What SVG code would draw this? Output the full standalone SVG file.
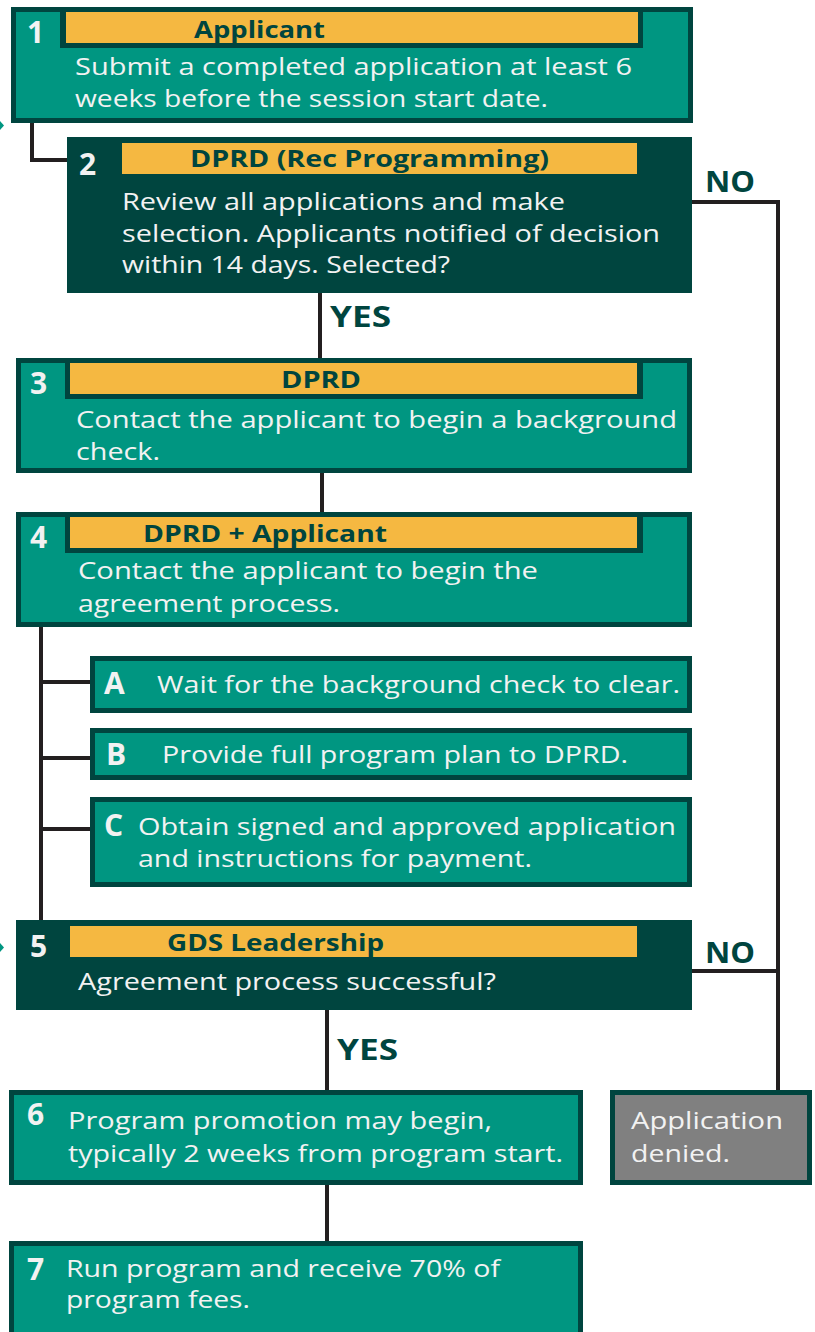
<svg xmlns="http://www.w3.org/2000/svg" width="815" height="1332" viewBox="0 0 815 1332">
<style>
.box{fill:#009681;stroke:#00453f;stroke-width:5}
.dbox{fill:#00453f}
.gbox{fill:#808080;stroke:#00453f;stroke-width:5}
.hf{fill:#00453f}
.hy{fill:#f5b841}
.num{font-family:"Open Sans","Noto Sans",sans-serif;font-weight:700;font-size:30px;fill:#f2f2f2}
.hd{font-family:"Open Sans","Noto Sans",sans-serif;font-weight:700;font-size:24px;fill:#00453f}
.tx{font-family:"Open Sans","Noto Sans",sans-serif;font-size:24px;fill:#f2f2f2}
.lb{font-family:"Open Sans","Noto Sans",sans-serif;font-weight:700;font-size:29px;fill:#00453f}
.cn{fill:none;stroke:#231f20;stroke-width:4}
</style>
<g id="connectors">
<path class="cn" d="M32 121 V160 H69"/>
<path class="cn" d="M690 202 H778 V1092"/>
<path class="cn" d="M690 971 H778"/>
<path class="cn" d="M320 291 V360"/>
<path class="cn" d="M322 471 V514"/>
<path class="cn" d="M41 625 V922"/>
<path class="cn" d="M41 682 H92 M41 758 H92 M41 829 H92"/>
<path class="cn" d="M327 1008 V1092"/>
<path class="cn" d="M327 1183 V1243"/>
<polygon points="0,121 4,125.5 0,130" fill="#009681"/>
<polygon points="0,943 4,947.5 0,952" fill="#009681"/>
<text class="lb" x="705" y="192" textLength="50" lengthAdjust="spacingAndGlyphs">NO</text>
<text class="lb" x="705" y="963" textLength="50" lengthAdjust="spacingAndGlyphs">NO</text>
<text class="lb" x="330" y="327" textLength="61" lengthAdjust="spacingAndGlyphs">YES</text>
<text class="lb" x="337" y="1060" textLength="61" lengthAdjust="spacingAndGlyphs">YES</text>
</g>
<g id="node1">
<rect class="box" x="13.5" y="9.5" width="677" height="111"/>
<rect class="hf" x="60" y="7" width="583" height="41"/>
<rect class="hy" x="66" y="12" width="572" height="31"/>
<text class="num" x="27" y="43">1</text>
<text class="hd" x="194" y="38" textLength="131" lengthAdjust="spacingAndGlyphs">Applicant</text>
<text class="tx" x="75" y="75" textLength="557" lengthAdjust="spacingAndGlyphs">Submit a completed application at least 6</text>
<text class="tx" x="75" y="107" textLength="473" lengthAdjust="spacingAndGlyphs">weeks before the session start date.</text>
</g>
<g id="node2">
<rect class="dbox" x="67" y="137" width="625" height="156"/>
<rect class="hy" x="122" y="143" width="515" height="31"/>
<text class="num" x="79" y="175">2</text>
<text class="hd" x="190" y="167" textLength="359" lengthAdjust="spacingAndGlyphs">DPRD (Rec Programming)</text>
<text class="tx" x="122" y="210" textLength="443" lengthAdjust="spacingAndGlyphs">Review all applications and make</text>
<text class="tx" x="122" y="242" textLength="538" lengthAdjust="spacingAndGlyphs">selection. Applicants notified of decision</text>
<text class="tx" x="122" y="273" textLength="328" lengthAdjust="spacingAndGlyphs">within 14 days. Selected?</text>
</g>
<g id="node3">
<rect class="box" x="18.5" y="360.5" width="671" height="110"/>
<rect class="hf" x="65" y="358" width="578" height="41"/>
<rect class="hy" x="70" y="363" width="567" height="31"/>
<text class="num" x="30" y="394">3</text>
<text class="hd" x="281" y="388" textLength="80" lengthAdjust="spacingAndGlyphs">DPRD</text>
<text class="tx" x="76" y="428" textLength="601" lengthAdjust="spacingAndGlyphs">Contact the applicant to begin a background</text>
<text class="tx" x="76" y="460" textLength="84" lengthAdjust="spacingAndGlyphs">check.</text>
</g>
<g id="node4">
<rect class="box" x="18.5" y="514.5" width="671" height="110"/>
<rect class="hf" x="65" y="512" width="578" height="41"/>
<rect class="hy" x="70" y="517" width="567" height="31"/>
<text class="num" x="30" y="548">4</text>
<text class="hd" x="143" y="542" textLength="244" lengthAdjust="spacingAndGlyphs">DPRD + Applicant</text>
<text class="tx" x="78" y="579" textLength="460" lengthAdjust="spacingAndGlyphs">Contact the applicant to begin the</text>
<text class="tx" x="78" y="612" textLength="262" lengthAdjust="spacingAndGlyphs">agreement process.</text>
</g>
<g id="nodeA">
<rect class="box" x="92.5" y="658.5" width="597" height="52"/>
<text class="num" x="104" y="694">A</text>
<text class="tx" x="157" y="693" textLength="523" lengthAdjust="spacingAndGlyphs">Wait for the background check to clear.</text>
</g>
<g id="nodeB">
<rect class="box" x="92.5" y="730.5" width="597" height="47"/>
<text class="num" x="106" y="765">B</text>
<text class="tx" x="162" y="763" textLength="466" lengthAdjust="spacingAndGlyphs">Provide full program plan to DPRD.</text>
</g>
<g id="nodeC">
<rect class="box" x="92.5" y="799.5" width="597" height="85"/>
<text class="num" x="104" y="836">C</text>
<text class="tx" x="138" y="835" textLength="538" lengthAdjust="spacingAndGlyphs">Obtain signed and approved application</text>
<text class="tx" x="138" y="867" textLength="394" lengthAdjust="spacingAndGlyphs">and instructions for payment.</text>
</g>
<g id="node5">
<rect class="dbox" x="16" y="920" width="676" height="90"/>
<rect class="hy" x="70" y="926" width="567" height="31"/>
<text class="num" x="30" y="957">5</text>
<text class="hd" x="167" y="951" textLength="217" lengthAdjust="spacingAndGlyphs">GDS Leadership</text>
<text class="tx" x="78" y="990" textLength="418" lengthAdjust="spacingAndGlyphs">Agreement process successful?</text>
</g>
<g id="node6">
<rect class="box" x="11.5" y="1092.5" width="569" height="90"/>
<text class="num" x="27" y="1125">6</text>
<text class="tx" x="68" y="1129" textLength="424" lengthAdjust="spacingAndGlyphs">Program promotion may begin,</text>
<text class="tx" x="68" y="1162" textLength="495" lengthAdjust="spacingAndGlyphs">typically 2 weeks from program start.</text>
</g>
<g id="nodeDenied">
<rect class="gbox" x="612.5" y="1092.5" width="197" height="90"/>
<text class="tx" x="631" y="1129" textLength="152" lengthAdjust="spacingAndGlyphs">Application</text>
<text class="tx" x="631" y="1162" textLength="99" lengthAdjust="spacingAndGlyphs">denied.</text>
</g>
<g id="node7">
<rect class="box" x="11.5" y="1243.5" width="569" height="95"/>
<text class="num" x="27" y="1280">7</text>
<text class="tx" x="66" y="1277" textLength="434" lengthAdjust="spacingAndGlyphs">Run program and receive 70% of</text>
<text class="tx" x="66" y="1308" textLength="184" lengthAdjust="spacingAndGlyphs">program fees.</text>
</g>
</svg>
